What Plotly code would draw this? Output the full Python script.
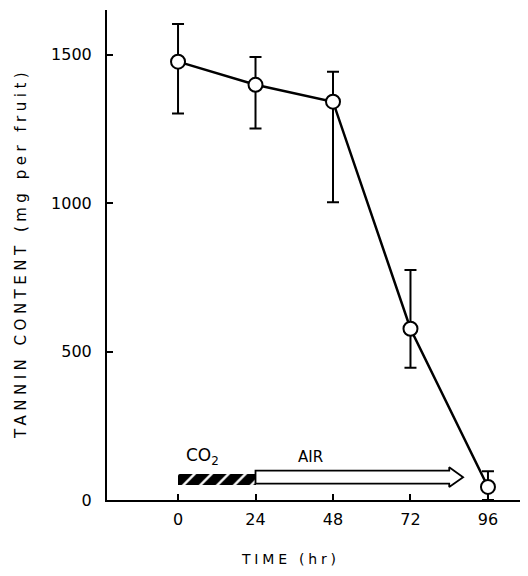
import plotly.graph_objects as go

# ---- data ----
time_hr = [0, 24, 48, 72, 96]
tannin = [1477, 1399, 1342, 577, 44]
err_upper = [1604, 1493, 1443, 775, 97]
err_lower = [1302, 1252, 1003, 446, 0]

x_ticks = [0, 24, 48, 72, 96]
y_ticks = [0, 500, 1000, 1500]

co2_period = [0, 24]
air_period = [24, 88.3]
arrow_level = 77

err_plus = [u - v for u, v in zip(err_upper, tannin)]
err_minus = [v - l for v, l in zip(tannin, err_lower)]

FONT = "DejaVu Sans"

# the page body has an 8px margin: size the figure to fill the remaining window
PAGE_OFF = 8
FIG_W, FIG_H = 528 - PAGE_OFF, 576 - 2 * PAGE_OFF
PLOT_L, PLOT_R, PLOT_T, PLOT_B = 107, 528, 10, 500  # page pixels

fig = go.Figure()

# CO2 period: hatched bar
fig.add_trace(go.Bar(
    x=[co2_period[1] - co2_period[0]], base=[co2_period[0]], y=[arrow_level - 7],
    orientation="h", width=38,
    marker=dict(color="white", line=dict(width=0),
                pattern=dict(shape="/", fgcolor="black", bgcolor="white",
                             fgopacity=1, size=12, solidity=0.8)),
    showlegend=False, hoverinfo="skip",
))

# AIR period: hollow arrow
x0, x1 = air_period
head = 4.3
bh, hh = 22, 33
ax = [x0, x1 - head, x1 - head, x1, x1 - head, x1 - head, x0, x0]
ay = [arrow_level - bh, arrow_level - bh, arrow_level - hh, arrow_level,
      arrow_level + hh, arrow_level + bh, arrow_level + bh, arrow_level - bh]
fig.add_trace(go.Scatter(
    x=ax, y=ay, mode="lines", fill="toself", fillcolor="white",
    line=dict(color="black", width=1.8), showlegend=False, hoverinfo="skip",
))

# Data
fig.add_trace(go.Scatter(
    x=time_hr, y=tannin, mode="lines+markers",
    line=dict(color="black", width=2.5),
    marker=dict(symbol="circle", size=14, color="white",
                line=dict(color="black", width=2)),
    error_y=dict(type="data", symmetric=False, array=err_plus,
                 arrayminus=err_minus, color="black", thickness=2, width=6),
    showlegend=False,
))

fig.add_annotation(x=co2_period[0] + 2, y=arrow_level + 25, xref="x", yref="y",
                   text="CO<sub>2</sub>", showarrow=False, xanchor="left",
                   yanchor="bottom", font=dict(family=FONT, size=17, color="black"))
fig.add_annotation(x=41, y=145, xref="x", yref="y", text="AIR",
                   showarrow=False, xanchor="center", yanchor="middle",
                   font=dict(family=FONT, size=15, color="black"))
fig.add_annotation(xref="paper", yref="paper",
                   x=(290 - PLOT_L) / (PLOT_R - PLOT_L),
                   y=-(559 - PLOT_B) / (PLOT_B - PLOT_T),
                   text='<span style="letter-spacing:3.8px">TIME (hr)</span>',
                   showarrow=False, xanchor="center", yanchor="middle",
                   font=dict(family=FONT, size=14, color="black"))
fig.add_annotation(xref="paper", yref="paper",
                   x=-(PLOT_L - 21) / (PLOT_R - PLOT_L),
                   y=(PLOT_B - 254) / (PLOT_B - PLOT_T),
                   text='<span style="letter-spacing:4.5px">TANNIN CONTENT (mg per fruit)</span>',
                   textangle=-90, showarrow=False, xanchor="center", yanchor="middle",
                   font=dict(family=FONT, size=15, color="black"))

fig.update_layout(
    width=FIG_W, height=FIG_H,
    margin=dict(l=PLOT_L - PAGE_OFF, r=PAGE_OFF + FIG_W - PLOT_R,
                t=PLOT_T - PAGE_OFF, b=FIG_H - (PLOT_B - PAGE_OFF), autoexpand=False),
    paper_bgcolor="white", plot_bgcolor="white",
    font=dict(family=FONT, size=16, color="black"),
    bargap=0,
    xaxis=dict(
        range=[-22, 108.4], tickvals=x_ticks, ticktext=[str(t) for t in x_ticks],
        ticks="inside", ticklen=6, tickwidth=1.5, tickcolor="black",
        showline=True, linecolor="black", linewidth=2, showgrid=False,
        zeroline=False, ticklabelstandoff=4, automargin=False,
        tickfont=dict(family=FONT, size=16, color="black"),
    ),
    yaxis=dict(
        range=[0, 1651], tickvals=y_ticks, ticktext=[str(t) for t in y_ticks],
        ticks="inside", ticklen=6, tickwidth=1.5, tickcolor="black",
        showline=True, linecolor="black", linewidth=2, showgrid=False,
        zeroline=False, ticklabelstandoff=10, automargin=False,
        tickfont=dict(family=FONT, size=16, color="black"),
    ),
)

fig.write_html("out.html")
